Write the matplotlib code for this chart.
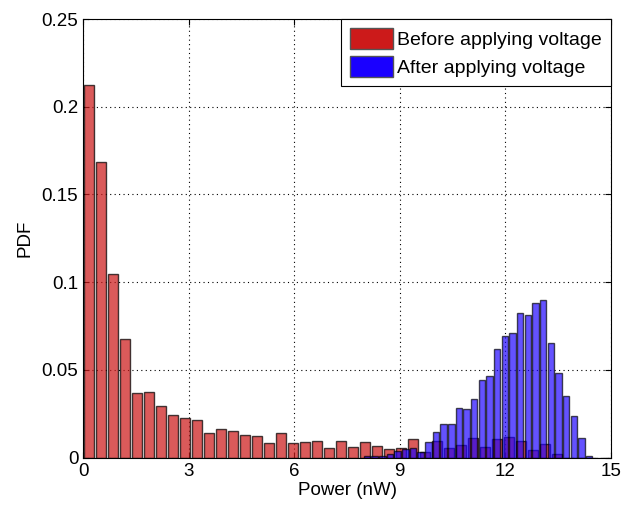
import numpy as np
import matplotlib.pyplot as plt

plt.rcParams['font.family'] = ['Liberation Sans', 'DejaVu Sans']

# red histogram: 44 equal bins on 0..15
red_edges = np.linspace(0, 15, 45)
red_pdf = [0.2126, 0.1688, 0.1049, 0.0675, 0.0370, 0.0374, 0.0292, 0.0241,
           0.0224, 0.0213, 0.0141, 0.0161, 0.0154, 0.0127, 0.0122, 0.0084,
           0.0143, 0.0083, 0.0087, 0.0097, 0.0057, 0.0097, 0.0060, 0.0087,
           0.0068, 0.0051, 0.0058, 0.0107, 0.0034, 0.0094, 0.0058, 0.0071,
           0.0113, 0.0063, 0.0105, 0.0120, 0.0093, 0.0042, 0.0076, 0.0019,
           0.0, 0.0, 0.0, 0.0]

# blue histogram: 30 bins between min and max of the "after" data
blue_edges = np.linspace(7.96, 14.49, 31)
blue_pdf = [0.0010, 0.0010, 0.0010, 0.0020, 0.0040, 0.0048, 0.0057, 0.0034,
            0.0091, 0.0148, 0.0190, 0.0192, 0.0281, 0.0277, 0.0332, 0.0444,
            0.0463, 0.0618, 0.0692, 0.0713, 0.0825, 0.0812, 0.0882, 0.0901,
            0.0654, 0.0480, 0.0351, 0.0239, 0.0112, 0.0010]

labels = ['Before applying voltage', 'After applying voltage']

red_c = (0.8, 0.1, 0.1)
blue_c = (0.1, 0.0, 1.0)

fig = plt.figure(figsize=(6.35, 5.07), dpi=100)
ax = fig.add_axes([0.131, 0.0972, 0.831, 0.8653])

rx = (red_edges[:-1] + red_edges[1:]) / 2
bx = (blue_edges[:-1] + blue_edges[1:]) / 2
rw = 0.8 * (red_edges[1] - red_edges[0])
bw = 0.85 * (blue_edges[1] - blue_edges[0])

ax.bar(rx, red_pdf, width=rw, color=red_c, alpha=0.72, edgecolor='black',
       linewidth=1.0, label=labels[0], zorder=2)
ax.bar(bx, blue_pdf, width=bw, color=blue_c, alpha=0.68, edgecolor='black',
       linewidth=1.0, label=labels[1], zorder=3)

ax.set_xlim(0, 15)
ax.set_ylim(0, 0.25)
ax.set_xticks([0, 3, 6, 9, 12, 15])
ax.set_yticks([0, 0.05, 0.1, 0.15, 0.2, 0.25])
ax.set_yticklabels(['0', '0.05', '0.1', '0.15', '0.2', '0.25'])
ax.tick_params(direction='in', top=True, right=True, labelsize=13.5, length=4)
ax.grid(True, color='black', linestyle=(0, (1, 3)), linewidth=0.8, zorder=0)
ax.set_axisbelow(True)
for s in ax.spines.values():
    s.set_linewidth(0.8)

ax.set_xlabel('Power (nW)', fontsize=13.5, labelpad=2)
ax.set_ylabel('PDF', fontsize=13.5, labelpad=6)

handles = [plt.Rectangle((0, 0), 1, 1, facecolor=red_c, edgecolor='#555555'),
           plt.Rectangle((0, 0), 1, 1, facecolor=blue_c, edgecolor='#555555')]
leg = ax.legend(handles, labels, loc='upper right', fontsize=14,
                borderaxespad=0, fancybox=False, edgecolor='black',
                framealpha=1, handlelength=2.2, handleheight=1.3,
                handletextpad=0.25, labelspacing=0.35, borderpad=0.45)
leg.get_frame().set_linewidth(0.8)

fig.savefig('out.png', dpi=100)
